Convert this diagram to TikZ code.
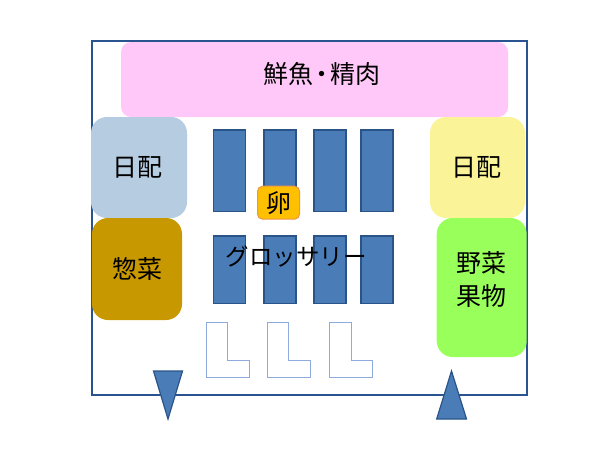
\documentclass[tikz,border=0pt]{standalone}
\usepackage{fontspec}
\setmainfont{Noto Sans CJK JP}
\definecolor{framec}{HTML}{2A5490}
\definecolor{rackc}{HTML}{4A7DB8}
\definecolor{rackb}{HTML}{2A5488}
\definecolor{lc}{HTML}{8FAADC}
\tikzset{
  every node/.style={inner sep=0pt,outer sep=0pt,font=\fontsize{25}{33}\selectfont,align=center,text=black},
  rack/.style={draw=rackb,fill=rackc,line width=1.2pt},
  lshape/.style={draw=lc,fill=white,line width=1pt},
  door/.style={draw=rackb,fill=rackc,line width=1.2pt,line join=miter},
  box/.style n args={3}{minimum width=#1,minimum height=#2,fill=#3}
}
\begin{document}
\begin{tikzpicture}[x=1pt,y=-1pt]
\useasboundingbox (0,0) rectangle (600,450);
\fill[white] (0,0) rectangle (600,450);
\draw[framec,line width=1.5pt] (92,41) rectangle (527,395);
\node[box={387pt}{75pt}{white},fill={rgb,255:red,255;green,200;blue,248},rounded corners=10pt] (fish) at (314.5,79.5) {};
\node (fisht) at (321.5,74) {鮮魚\kern-4pt・\kern-4pt精肉};
\node[box={96pt}{101pt}{white},fill={rgb,255:red,182;green,204;blue,224},rounded corners=16pt] (nichi1) at (139,167.5) {};
\node (nichi1t) at (137.5,167) {日配};
\node[box={95pt}{101pt}{white},fill={rgb,255:red,251;green,243;blue,152},rounded corners=16pt] (nichi2) at (477.5,167.5) {};
\node (nichi2t) at (476,167) {日配};
\node[box={90pt}{102pt}{white},fill={rgb,255:red,200;green,152;blue,0},rounded corners=16pt] (sozai) at (137,269) {惣菜};
\node[box={90pt}{139pt}{white},fill={rgb,255:red,153;green,255;blue,90},rounded corners=16pt] (yasai) at (481.7,287.5) {};
\node (yasait) at (481,279) {野菜\\果物};
\foreach \n/\x in {a/213.5,b/264,c/314,d/361}{
  \draw[rack] (\x,130) rectangle ++(32,81.5);
  \draw[rack] (\x,236) rectangle ++(32,67.5);
}
\node[minimum width=42pt,minimum height=33pt,fill={rgb,255:red,255;green,192;blue,0},draw={rgb,255:red,237;green,150;blue,70},line width=1pt,rounded corners=5pt] (egg) at (278.5,202.7) {卵};
\node[font=\fontsize{23.5}{30}\selectfont] (grocery) at (296,257) {グロッサリー};
\foreach \x in {206,267.3,329.7}{
  \draw[lshape] (\x,322.5) -- ++(21.5,0) -- ++(0,37.5) -- ++(21.5,0) -- ++(0,17.5) -- ++(-43,0) -- cycle;
}
\draw[door] (153.5,371) -- (182.5,371) -- (168,419) -- cycle;
\draw[door] (451.5,371) -- (466.5,419) -- (436.7,419) -- cycle;
\end{tikzpicture}
\end{document}
